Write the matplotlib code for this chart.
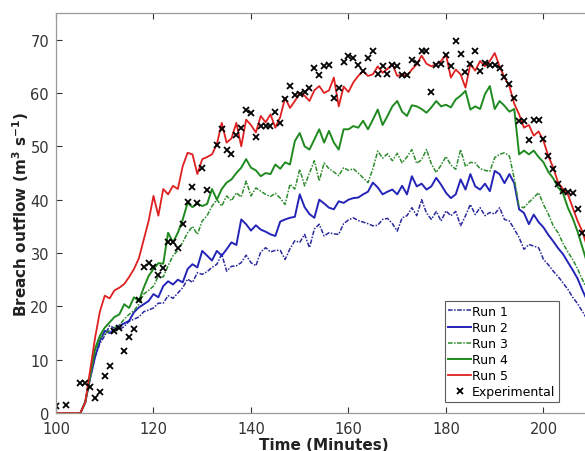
import numpy as np
import matplotlib
matplotlib.use('Agg')
import matplotlib.pyplot as plt

## simulated runs, one value per minute from 100 to 209
t = np.arange(100, 210)

run1 = [0, 0, 0, 0, 0, 0, 2, 6.5, 10.5, 13, 14.5, 16.4, 15.9, 15.7, 16.2, 17.2, 17.6, 18, 19, 19.3,
        19.7, 20.6, 20.6, 22, 21.5, 22.5, 23.5, 25.1, 24.5, 26.3, 26, 26.5, 27.3, 27.9, 29.8, 26.6, 27.5, 27.6, 28.2, 29.6,
        28.2, 27.6, 30.2, 31, 30.2, 30.5, 30.5, 28.8, 30.8, 32.3, 32, 33.5, 31, 34.5, 35.4, 33.2, 33.8, 33.6, 33.5, 35.5,
        36.2, 36.6, 36.1, 35.8, 35.5, 35.1, 35.2, 36.3, 36.5, 35.5, 34.1, 36.6, 37, 38.5, 37, 40, 37.5, 36.3, 37.8, 36,
        37.9, 37, 37.8, 35.1, 37, 39.1, 37.2, 38.5, 37, 37.6, 37.3, 38.5, 36.3, 36, 34.5, 32.9, 30.7, 31.6, 31.3, 31,
        28.8, 27.8, 26.6, 25.6, 24.4, 23.2, 21.7, 20.5, 19, 17.5]

run2 = [0, 0, 0, 0, 0, 0, 2, 6.5, 10.5, 13.5, 15.4, 15, 15.7, 16.4, 16.8, 17.3, 18.9, 19.8, 20.4, 21,
        22.3, 21.7, 23.8, 24.7, 24.1, 25, 24.5, 27, 27.9, 27.3, 30.4, 29.5, 28.6, 30.4, 29.5, 30.7, 32, 31.5, 36.3, 35.4,
        34.2, 35.2, 34.4, 34, 33.5, 33.2, 35.9, 36.3, 36.6, 36.8, 41, 38.6, 37.3, 36.6, 40, 39.3, 38.5, 38.2, 39.7, 39.4,
        40, 40.3, 40.4, 41, 41.5, 43.2, 42.3, 41, 41.5, 41.9, 41, 42.6, 41, 44.4, 42.5, 43, 41.9, 42.5, 44.1, 42.8,
        41.3, 40.3, 41, 43.8, 41.9, 44.8, 42.5, 41.9, 43, 41.6, 45.4, 44.8, 43.1, 44.8, 43.1, 38.2, 37.5, 35.4, 37.2, 35.8,
        34.8, 33.4, 32.2, 30.9, 29.8, 28.3, 26.8, 25.2, 23, 21]

run3 = [0, 0, 0, 0, 0, 0, 2, 7, 11.5, 14, 14.8, 15.5, 16, 16.5, 17.6, 18.5, 19.2, 20.4, 22.3, 23,
        23.8, 25.7, 25.5, 27.6, 29.5, 30.5, 32, 33.8, 35, 33.5, 36, 37, 38.8, 40, 38.8, 40.7, 39.8, 41.3, 40.5, 43.5,
        40.7, 42.2, 41.6, 41, 40.6, 41.2, 40.3, 39.1, 42.9, 42, 45.7, 42.6, 45, 47.3, 43.5, 46.9, 45.8, 45.2, 44.5, 46,
        45.5, 45.8, 45, 44.1, 43.2, 45.8, 49.1, 47.8, 48.6, 47.3, 48.7, 46.9, 48, 49.4, 46.8, 47.5, 49.4, 46.7, 45.1, 46.5,
        48.1, 46.5, 45.7, 49.4, 46.2, 47, 46.9, 45.8, 45.5, 45.3, 47.9, 48.5, 48.8, 48.2, 44, 38.7, 38.5, 39.5, 40.4, 41.3,
        39.1, 37.3, 35.1, 33.8, 31.8, 30.2, 28.8, 27, 25, 23]

run4 = [0, 0, 0, 0, 0, 0, 2, 7, 12, 14.5, 16, 17, 18, 18.5, 20.4, 19.7, 21.7, 21, 23.5, 25.7,
        27, 28.1, 28, 33.8, 32, 33.8, 36.3, 39.4, 38.6, 39.3, 38.8, 39.2, 42, 40, 42, 43.2, 43.8, 45, 46, 47.6,
        46, 45.5, 44.4, 45, 44.8, 46.6, 45.8, 47, 46.6, 51, 52.5, 50, 49.4, 51.3, 53.2, 50.7, 52.9, 50.7, 49.4, 53.2,
        53.2, 53.8, 53.5, 54.8, 53.2, 55, 56.9, 54, 55.7, 57.5, 58.5, 56.5, 55.7, 57.7, 57.5, 57, 56.3, 57.3, 58.5, 57.5,
        57.8, 57.3, 58.8, 59.5, 60.4, 56.9, 57.5, 57, 59.8, 61.3, 57, 58.5, 57.6, 56.5, 57, 48.5, 49.2, 48.5, 49.2, 48,
        47, 45.2, 44, 42.3, 41.2, 38.5, 36.5, 34, 31, 28]

run5 = [0, 0, 0, 0, 0, 0, 2, 8, 14, 19, 22, 21.5, 23, 23.5, 24.2, 25.5, 27, 29, 32.5, 36,
        40.7, 37, 42, 41, 42.6, 42, 46.3, 48.8, 48.5, 44.8, 47.6, 48, 48.5, 50.4, 54.4, 50.7, 51.5, 54.4, 50, 55,
        54, 52.6, 55.7, 54.5, 56, 53.5, 55.5, 59.1, 57.2, 58.5, 60, 59.5, 58.5, 60.5, 61.3, 60, 60.5, 62.9, 57.5, 61.2,
        60.2, 62, 63.2, 64.1, 63.2, 63.5, 65, 63.8, 64.5, 65.4, 63.2, 63.5, 63.2, 64.4, 65.4, 67, 65.5, 65, 65.4, 66,
        67.2, 62.9, 64.4, 63.5, 61, 65.4, 64.2, 66, 65, 66, 67.5, 65, 62.9, 61.3, 58, 56, 53.5, 54, 52, 52.8,
        51, 48.2, 46, 43.2, 42, 41, 38.5, 36, 34, 31]

## experimental measurements
exp_t = [100, 102, 105, 106, 107, 108, 109, 110, 111, 112, 113, 114, 115, 116, 117, 118, 119, 120, 121, 122,
         123, 124, 125, 126, 127, 128, 129, 130, 131, 133, 134, 135, 136, 137, 138, 139, 140, 141, 142, 143,
         144, 145, 146, 147, 148, 149, 150, 151, 152, 153, 154, 155, 156, 157, 158, 159, 160, 161, 162, 163,
         164, 165, 166, 167, 168, 169, 170, 171, 172, 173, 174, 175, 176, 177, 178, 179, 180, 181, 182, 183,
         184, 185, 186, 187, 188, 189, 190, 191, 192, 193, 194, 195, 196, 197, 198, 199, 200, 201, 202, 203,
         204, 205, 206, 207, 208]
exp_q = [1.25, 1.5, 5.6, 5.6, 4.9, 2.8, 4.0, 6.9, 8.9, 15.4, 15.9, 11.7, 14.2, 15.7, 21.1, 27.3, 28.1, 27.4, 25.9, 27.1,
         32.0, 32.1, 31.0, 35.5, 39.6, 42.3, 39.4, 46.0, 41.9, 50.2, 53.3, 49.4, 48.5, 52.2, 53.5, 56.9, 56.3, 51.8, 53.9, 53.9,
         53.8, 56.4, 54.4, 58.9, 61.4, 59.7, 59.9, 60.2, 61.0, 64.7, 63.3, 65.0, 65.2, 59.0, 61.0, 65.8, 67.0, 66.6, 65.3, 64.1,
         66.6, 67.9, 63.5, 65.0, 63.5, 65.2, 65.0, 63.3, 63.3, 66.1, 65.7, 67.9, 67.9, 60.2, 65.2, 65.5, 67.2, 65.0, 69.7, 67.4,
         63.9, 65.4, 67.9, 64.1, 65.7, 65.3, 65.2, 64.7, 63.0, 61.6, 59.1, 54.8, 54.8, 51.2, 54.9, 54.9, 51.4, 48.2, 45.7, 42.9,
         41.6, 41.4, 41.2, 38.3, 33.7]

plt.rcParams['font.family'] = ['DejaVu Sans']

fig = plt.figure(figsize=(5.85, 4.52), dpi=100)
# axes run past the right edge of the picture, like the cropped original
ax = fig.add_axes([0.0957, 0.084, 1.0, 0.885])

ax.plot(t, run1, color='#2a2a9e', lw=1.1, ls=(0, (3, 1, 1, 1)), label='Run 1')
ax.plot(t, run2, color='#2424b8', lw=1.4, label='Run 2')
ax.plot(t, run3, color='#2e8b2e', lw=1.1, ls=(0, (3, 1, 1, 1)), label='Run 3')
ax.plot(t, run4, color='#1f8a1f', lw=1.4, label='Run 4')
ax.plot(t, run5, color='#e02020', lw=1.3, label='Run 5')
ax.plot(exp_t, exp_q, ls='none', marker='x', ms=4, mew=1.3, color='black', label='Experimental')

ax.set_xlim(100, 220)
ax.set_ylim(0, 75)
ax.set_xticks([100, 120, 140, 160, 180, 200])
ax.set_yticks(range(0, 71, 10))
ax.tick_params(direction='in', top=True, right=True, labelsize=10.5, colors='#333333',
               length=4, width=0.8)
ax.tick_params(axis='y', pad=5)
ax.tick_params(axis='x', pad=6)
for tl in ax.get_xticklabels() + ax.get_yticklabels():
    tl.set_color('#333333')
for s in ax.spines.values():
    s.set_color('#999999')
    s.set_linewidth(0.9)

ax.set_xlabel('Time (Minutes)', fontsize=11, fontweight='bold', color='#222222')
ax.set_ylabel('Breach outflow (m$^\\mathbf{3}$ s$^\\mathbf{-1}$)', fontsize=11, fontweight='bold', color='#222222')
ax.xaxis.set_label_coords(0.458, -0.06)
ax.yaxis.set_label_coords(-0.042, 0.5)

leg = ax.legend(loc='lower right', bbox_to_anchor=(0.956, 0.108), bbox_transform=fig.transFigure,
                fontsize=9, frameon=True, fancybox=False, borderaxespad=0, handlelength=1.8,
                handletextpad=0.1, labelspacing=0.25, borderpad=0.3)
leg.get_frame().set_edgecolor('#333333')
leg.get_frame().set_linewidth(0.8)

fig.savefig('out.png', dpi=100)
